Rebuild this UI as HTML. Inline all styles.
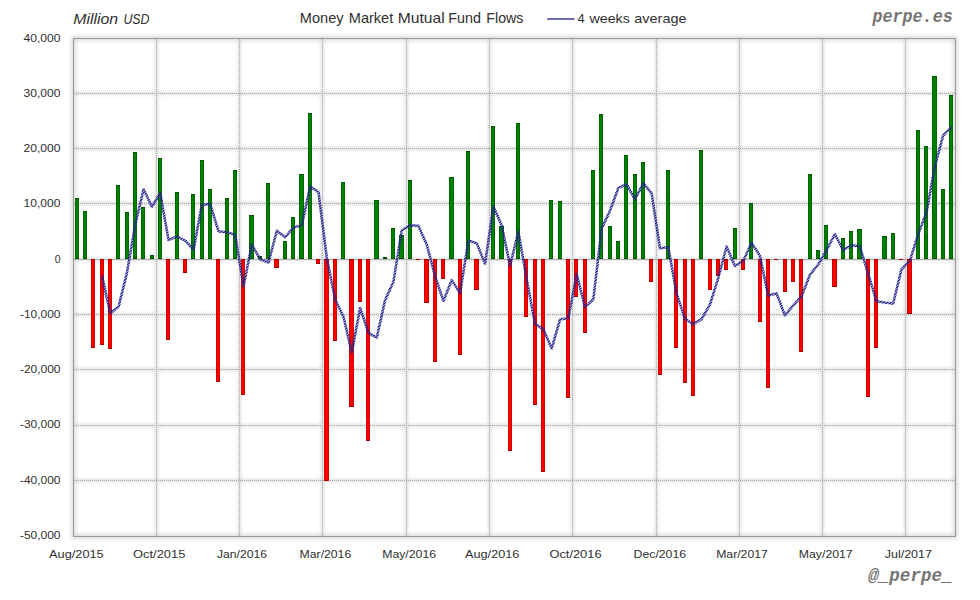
<!DOCTYPE html>
<html><head><meta charset="utf-8"><title>Money Market Mutual Fund Flows</title>
<style>html,body{margin:0;padding:0;background:#fff;}body{width:980px;height:600px;overflow:hidden;font-family:"Liberation Sans",sans-serif;}svg{display:block;}text{font-family:"Liberation Sans",sans-serif;}</style>
</head><body>
<svg width="980" height="600" viewBox="0 0 980 600">
<defs>
<filter id="glow" x="-5%" y="-5%" width="110%" height="110%"><feGaussianBlur stdDeviation="2.2"/></filter>
<filter id="glow2" x="-5%" y="-5%" width="110%" height="110%"><feGaussianBlur stdDeviation="1.6"/></filter>
<pattern id="hatch" width="2.2" height="8" patternUnits="userSpaceOnUse" patternTransform="rotate(54)"><rect x="0" y="0" width="1.2" height="8" fill="#18187c"/></pattern>
</defs>
<rect x="0" y="0" width="980" height="600" fill="#ffffff"/>
<rect x="73.5" y="38.5" width="882" height="498" fill="none" stroke="#9a9a9a" stroke-width="3" opacity="0.55" filter="url(#glow)"/>
<g stroke="#b0b0b0" stroke-width="3" opacity="0.42" filter="url(#glow2)">
<line x1="74" y1="93.5" x2="955" y2="93.5"/>
<line x1="74" y1="148.5" x2="955" y2="148.5"/>
<line x1="74" y1="203.5" x2="955" y2="203.5"/>
<line x1="74" y1="259.5" x2="955" y2="259.5"/>
<line x1="74" y1="314.5" x2="955" y2="314.5"/>
<line x1="74" y1="369.5" x2="955" y2="369.5"/>
<line x1="74" y1="425.5" x2="955" y2="425.5"/>
<line x1="74" y1="480.5" x2="955" y2="480.5"/>
<line x1="156.5" y1="39" x2="156.5" y2="536"/>
<line x1="239.5" y1="39" x2="239.5" y2="536"/>
<line x1="322.5" y1="39" x2="322.5" y2="536"/>
<line x1="406.5" y1="39" x2="406.5" y2="536"/>
<line x1="489.5" y1="39" x2="489.5" y2="536"/>
<line x1="572.5" y1="39" x2="572.5" y2="536"/>
<line x1="656.5" y1="39" x2="656.5" y2="536"/>
<line x1="739.5" y1="39" x2="739.5" y2="536"/>
<line x1="822.5" y1="39" x2="822.5" y2="536"/>
<line x1="905.5" y1="39" x2="905.5" y2="536"/>
</g>
<g stroke="#a8a8a8" stroke-width="1" stroke-dasharray="1 1" shape-rendering="crispEdges">
<line x1="74" y1="93.5" x2="955" y2="93.5"/>
<line x1="74" y1="148.5" x2="955" y2="148.5"/>
<line x1="74" y1="203.5" x2="955" y2="203.5"/>
<line x1="74" y1="314.5" x2="955" y2="314.5"/>
<line x1="74" y1="369.5" x2="955" y2="369.5"/>
<line x1="74" y1="425.5" x2="955" y2="425.5"/>
<line x1="74" y1="480.5" x2="955" y2="480.5"/>
<line x1="156.5" y1="39" x2="156.5" y2="536"/>
<line x1="239.5" y1="39" x2="239.5" y2="536"/>
<line x1="322.5" y1="39" x2="322.5" y2="536"/>
<line x1="406.5" y1="39" x2="406.5" y2="536"/>
<line x1="489.5" y1="39" x2="489.5" y2="536"/>
<line x1="572.5" y1="39" x2="572.5" y2="536"/>
<line x1="656.5" y1="39" x2="656.5" y2="536"/>
<line x1="739.5" y1="39" x2="739.5" y2="536"/>
<line x1="822.5" y1="39" x2="822.5" y2="536"/>
<line x1="905.5" y1="39" x2="905.5" y2="536"/>
</g>
<line x1="74" y1="259.5" x2="955" y2="259.5" stroke="#adadad" stroke-width="1" shape-rendering="crispEdges"/>
<g shape-rendering="crispEdges">
<rect x="75" y="198" width="4" height="61" fill="#006a00"/>
<rect x="76" y="199" width="2" height="59" fill="#008000"/>
<rect x="75" y="198" width="4" height="1" fill="#005400"/>
<rect x="75" y="258" width="4" height="1" fill="#005400"/>
<rect x="83" y="211" width="4" height="48" fill="#006a00"/>
<rect x="84" y="212" width="2" height="46" fill="#008000"/>
<rect x="83" y="211" width="4" height="1" fill="#005400"/>
<rect x="83" y="258" width="4" height="1" fill="#005400"/>
<rect x="91" y="259" width="4" height="89" fill="#d40000"/>
<rect x="92" y="260" width="2" height="87" fill="#ff0000"/>
<rect x="91" y="259" width="4" height="1" fill="#a80000"/>
<rect x="91" y="347" width="4" height="1" fill="#a80000"/>
<rect x="100" y="259" width="4" height="86" fill="#d40000"/>
<rect x="101" y="260" width="2" height="84" fill="#ff0000"/>
<rect x="100" y="259" width="4" height="1" fill="#a80000"/>
<rect x="100" y="344" width="4" height="1" fill="#a80000"/>
<rect x="108" y="259" width="4" height="90" fill="#d40000"/>
<rect x="109" y="260" width="2" height="88" fill="#ff0000"/>
<rect x="108" y="259" width="4" height="1" fill="#a80000"/>
<rect x="108" y="348" width="4" height="1" fill="#a80000"/>
<rect x="116" y="185" width="4" height="74" fill="#006a00"/>
<rect x="117" y="186" width="2" height="72" fill="#008000"/>
<rect x="116" y="185" width="4" height="1" fill="#005400"/>
<rect x="116" y="258" width="4" height="1" fill="#005400"/>
<rect x="125" y="212" width="4" height="47" fill="#006a00"/>
<rect x="126" y="213" width="2" height="45" fill="#008000"/>
<rect x="125" y="212" width="4" height="1" fill="#005400"/>
<rect x="125" y="258" width="4" height="1" fill="#005400"/>
<rect x="133" y="152" width="4" height="107" fill="#006a00"/>
<rect x="134" y="153" width="2" height="105" fill="#008000"/>
<rect x="133" y="152" width="4" height="1" fill="#005400"/>
<rect x="133" y="258" width="4" height="1" fill="#005400"/>
<rect x="141" y="207" width="4" height="52" fill="#006a00"/>
<rect x="142" y="208" width="2" height="50" fill="#008000"/>
<rect x="141" y="207" width="4" height="1" fill="#005400"/>
<rect x="141" y="258" width="4" height="1" fill="#005400"/>
<rect x="150" y="255" width="4" height="4" fill="#006a00"/>
<rect x="151" y="256" width="2" height="2" fill="#008000"/>
<rect x="150" y="255" width="4" height="1" fill="#005400"/>
<rect x="150" y="258" width="4" height="1" fill="#005400"/>
<rect x="158" y="158" width="4" height="101" fill="#006a00"/>
<rect x="159" y="159" width="2" height="99" fill="#008000"/>
<rect x="158" y="158" width="4" height="1" fill="#005400"/>
<rect x="158" y="258" width="4" height="1" fill="#005400"/>
<rect x="166" y="259" width="4" height="81" fill="#d40000"/>
<rect x="167" y="260" width="2" height="79" fill="#ff0000"/>
<rect x="166" y="259" width="4" height="1" fill="#a80000"/>
<rect x="166" y="339" width="4" height="1" fill="#a80000"/>
<rect x="175" y="192" width="4" height="67" fill="#006a00"/>
<rect x="176" y="193" width="2" height="65" fill="#008000"/>
<rect x="175" y="192" width="4" height="1" fill="#005400"/>
<rect x="175" y="258" width="4" height="1" fill="#005400"/>
<rect x="183" y="259" width="4" height="14" fill="#d40000"/>
<rect x="184" y="260" width="2" height="12" fill="#ff0000"/>
<rect x="183" y="259" width="4" height="1" fill="#a80000"/>
<rect x="183" y="272" width="4" height="1" fill="#a80000"/>
<rect x="191" y="194" width="4" height="65" fill="#006a00"/>
<rect x="192" y="195" width="2" height="63" fill="#008000"/>
<rect x="191" y="194" width="4" height="1" fill="#005400"/>
<rect x="191" y="258" width="4" height="1" fill="#005400"/>
<rect x="200" y="160" width="4" height="99" fill="#006a00"/>
<rect x="201" y="161" width="2" height="97" fill="#008000"/>
<rect x="200" y="160" width="4" height="1" fill="#005400"/>
<rect x="200" y="258" width="4" height="1" fill="#005400"/>
<rect x="208" y="189" width="4" height="70" fill="#006a00"/>
<rect x="209" y="190" width="2" height="68" fill="#008000"/>
<rect x="208" y="189" width="4" height="1" fill="#005400"/>
<rect x="208" y="258" width="4" height="1" fill="#005400"/>
<rect x="216" y="259" width="4" height="123" fill="#d40000"/>
<rect x="217" y="260" width="2" height="121" fill="#ff0000"/>
<rect x="216" y="259" width="4" height="1" fill="#a80000"/>
<rect x="216" y="381" width="4" height="1" fill="#a80000"/>
<rect x="225" y="198" width="4" height="61" fill="#006a00"/>
<rect x="226" y="199" width="2" height="59" fill="#008000"/>
<rect x="225" y="198" width="4" height="1" fill="#005400"/>
<rect x="225" y="258" width="4" height="1" fill="#005400"/>
<rect x="233" y="170" width="4" height="89" fill="#006a00"/>
<rect x="234" y="171" width="2" height="87" fill="#008000"/>
<rect x="233" y="170" width="4" height="1" fill="#005400"/>
<rect x="233" y="258" width="4" height="1" fill="#005400"/>
<rect x="241" y="259" width="4" height="136" fill="#d40000"/>
<rect x="242" y="260" width="2" height="134" fill="#ff0000"/>
<rect x="241" y="259" width="4" height="1" fill="#a80000"/>
<rect x="241" y="394" width="4" height="1" fill="#a80000"/>
<rect x="249" y="215" width="5" height="44" fill="#006a00"/>
<rect x="250" y="216" width="3" height="42" fill="#008000"/>
<rect x="249" y="215" width="5" height="1" fill="#005400"/>
<rect x="249" y="258" width="5" height="1" fill="#005400"/>
<rect x="258" y="256" width="4" height="3" fill="#006a00"/>
<rect x="259" y="257" width="2" height="1" fill="#008000"/>
<rect x="258" y="256" width="4" height="1" fill="#005400"/>
<rect x="258" y="258" width="4" height="1" fill="#005400"/>
<rect x="266" y="183" width="4" height="76" fill="#006a00"/>
<rect x="267" y="184" width="2" height="74" fill="#008000"/>
<rect x="266" y="183" width="4" height="1" fill="#005400"/>
<rect x="266" y="258" width="4" height="1" fill="#005400"/>
<rect x="274" y="259" width="5" height="9" fill="#d40000"/>
<rect x="275" y="260" width="3" height="7" fill="#ff0000"/>
<rect x="274" y="259" width="5" height="1" fill="#a80000"/>
<rect x="274" y="267" width="5" height="1" fill="#a80000"/>
<rect x="283" y="241" width="4" height="18" fill="#006a00"/>
<rect x="284" y="242" width="2" height="16" fill="#008000"/>
<rect x="283" y="241" width="4" height="1" fill="#005400"/>
<rect x="283" y="258" width="4" height="1" fill="#005400"/>
<rect x="291" y="217" width="4" height="42" fill="#006a00"/>
<rect x="292" y="218" width="2" height="40" fill="#008000"/>
<rect x="291" y="217" width="4" height="1" fill="#005400"/>
<rect x="291" y="258" width="4" height="1" fill="#005400"/>
<rect x="299" y="174" width="5" height="85" fill="#006a00"/>
<rect x="300" y="175" width="3" height="83" fill="#008000"/>
<rect x="299" y="174" width="5" height="1" fill="#005400"/>
<rect x="299" y="258" width="5" height="1" fill="#005400"/>
<rect x="308" y="113" width="4" height="146" fill="#006a00"/>
<rect x="309" y="114" width="2" height="144" fill="#008000"/>
<rect x="308" y="113" width="4" height="1" fill="#005400"/>
<rect x="308" y="258" width="4" height="1" fill="#005400"/>
<rect x="316" y="259" width="4" height="5" fill="#d40000"/>
<rect x="317" y="260" width="2" height="3" fill="#ff0000"/>
<rect x="316" y="259" width="4" height="1" fill="#a80000"/>
<rect x="316" y="263" width="4" height="1" fill="#a80000"/>
<rect x="324" y="259" width="5" height="222" fill="#d40000"/>
<rect x="325" y="260" width="3" height="220" fill="#ff0000"/>
<rect x="324" y="259" width="5" height="1" fill="#a80000"/>
<rect x="324" y="480" width="5" height="1" fill="#a80000"/>
<rect x="333" y="259" width="4" height="82" fill="#d40000"/>
<rect x="334" y="260" width="2" height="80" fill="#ff0000"/>
<rect x="333" y="259" width="4" height="1" fill="#a80000"/>
<rect x="333" y="340" width="4" height="1" fill="#a80000"/>
<rect x="341" y="182" width="4" height="77" fill="#006a00"/>
<rect x="342" y="183" width="2" height="75" fill="#008000"/>
<rect x="341" y="182" width="4" height="1" fill="#005400"/>
<rect x="341" y="258" width="4" height="1" fill="#005400"/>
<rect x="349" y="259" width="5" height="148" fill="#d40000"/>
<rect x="350" y="260" width="3" height="146" fill="#ff0000"/>
<rect x="349" y="259" width="5" height="1" fill="#a80000"/>
<rect x="349" y="406" width="5" height="1" fill="#a80000"/>
<rect x="358" y="259" width="4" height="43" fill="#d40000"/>
<rect x="359" y="260" width="2" height="41" fill="#ff0000"/>
<rect x="358" y="259" width="4" height="1" fill="#a80000"/>
<rect x="358" y="301" width="4" height="1" fill="#a80000"/>
<rect x="366" y="259" width="4" height="182" fill="#d40000"/>
<rect x="367" y="260" width="2" height="180" fill="#ff0000"/>
<rect x="366" y="259" width="4" height="1" fill="#a80000"/>
<rect x="366" y="440" width="4" height="1" fill="#a80000"/>
<rect x="374" y="200" width="5" height="59" fill="#006a00"/>
<rect x="375" y="201" width="3" height="57" fill="#008000"/>
<rect x="374" y="200" width="5" height="1" fill="#005400"/>
<rect x="374" y="258" width="5" height="1" fill="#005400"/>
<rect x="383" y="257" width="4" height="2" fill="#005400"/>
<rect x="391" y="228" width="4" height="31" fill="#006a00"/>
<rect x="392" y="229" width="2" height="29" fill="#008000"/>
<rect x="391" y="228" width="4" height="1" fill="#005400"/>
<rect x="391" y="258" width="4" height="1" fill="#005400"/>
<rect x="399" y="235" width="5" height="24" fill="#006a00"/>
<rect x="400" y="236" width="3" height="22" fill="#008000"/>
<rect x="399" y="235" width="5" height="1" fill="#005400"/>
<rect x="399" y="258" width="5" height="1" fill="#005400"/>
<rect x="408" y="180" width="4" height="79" fill="#006a00"/>
<rect x="409" y="181" width="2" height="77" fill="#008000"/>
<rect x="408" y="180" width="4" height="1" fill="#005400"/>
<rect x="408" y="258" width="4" height="1" fill="#005400"/>
<rect x="416" y="259" width="4" height="1" fill="#a80000"/>
<rect x="424" y="259" width="5" height="44" fill="#d40000"/>
<rect x="425" y="260" width="3" height="42" fill="#ff0000"/>
<rect x="424" y="259" width="5" height="1" fill="#a80000"/>
<rect x="424" y="302" width="5" height="1" fill="#a80000"/>
<rect x="433" y="259" width="4" height="103" fill="#d40000"/>
<rect x="434" y="260" width="2" height="101" fill="#ff0000"/>
<rect x="433" y="259" width="4" height="1" fill="#a80000"/>
<rect x="433" y="361" width="4" height="1" fill="#a80000"/>
<rect x="441" y="259" width="4" height="20" fill="#d40000"/>
<rect x="442" y="260" width="2" height="18" fill="#ff0000"/>
<rect x="441" y="259" width="4" height="1" fill="#a80000"/>
<rect x="441" y="278" width="4" height="1" fill="#a80000"/>
<rect x="449" y="177" width="5" height="82" fill="#006a00"/>
<rect x="450" y="178" width="3" height="80" fill="#008000"/>
<rect x="449" y="177" width="5" height="1" fill="#005400"/>
<rect x="449" y="258" width="5" height="1" fill="#005400"/>
<rect x="458" y="259" width="4" height="96" fill="#d40000"/>
<rect x="459" y="260" width="2" height="94" fill="#ff0000"/>
<rect x="458" y="259" width="4" height="1" fill="#a80000"/>
<rect x="458" y="354" width="4" height="1" fill="#a80000"/>
<rect x="466" y="151" width="4" height="108" fill="#006a00"/>
<rect x="467" y="152" width="2" height="106" fill="#008000"/>
<rect x="466" y="151" width="4" height="1" fill="#005400"/>
<rect x="466" y="258" width="4" height="1" fill="#005400"/>
<rect x="474" y="259" width="5" height="31" fill="#d40000"/>
<rect x="475" y="260" width="3" height="29" fill="#ff0000"/>
<rect x="474" y="259" width="5" height="1" fill="#a80000"/>
<rect x="474" y="289" width="5" height="1" fill="#a80000"/>
<rect x="491" y="126" width="4" height="133" fill="#006a00"/>
<rect x="492" y="127" width="2" height="131" fill="#008000"/>
<rect x="491" y="126" width="4" height="1" fill="#005400"/>
<rect x="491" y="258" width="4" height="1" fill="#005400"/>
<rect x="499" y="226" width="5" height="33" fill="#006a00"/>
<rect x="500" y="227" width="3" height="31" fill="#008000"/>
<rect x="499" y="226" width="5" height="1" fill="#005400"/>
<rect x="499" y="258" width="5" height="1" fill="#005400"/>
<rect x="508" y="259" width="4" height="192" fill="#d40000"/>
<rect x="509" y="260" width="2" height="190" fill="#ff0000"/>
<rect x="508" y="259" width="4" height="1" fill="#a80000"/>
<rect x="508" y="450" width="4" height="1" fill="#a80000"/>
<rect x="516" y="123" width="4" height="136" fill="#006a00"/>
<rect x="517" y="124" width="2" height="134" fill="#008000"/>
<rect x="516" y="123" width="4" height="1" fill="#005400"/>
<rect x="516" y="258" width="4" height="1" fill="#005400"/>
<rect x="524" y="259" width="4" height="58" fill="#d40000"/>
<rect x="525" y="260" width="2" height="56" fill="#ff0000"/>
<rect x="524" y="259" width="4" height="1" fill="#a80000"/>
<rect x="524" y="316" width="4" height="1" fill="#a80000"/>
<rect x="533" y="259" width="4" height="146" fill="#d40000"/>
<rect x="534" y="260" width="2" height="144" fill="#ff0000"/>
<rect x="533" y="259" width="4" height="1" fill="#a80000"/>
<rect x="533" y="404" width="4" height="1" fill="#a80000"/>
<rect x="541" y="259" width="4" height="213" fill="#d40000"/>
<rect x="542" y="260" width="2" height="211" fill="#ff0000"/>
<rect x="541" y="259" width="4" height="1" fill="#a80000"/>
<rect x="541" y="471" width="4" height="1" fill="#a80000"/>
<rect x="549" y="200" width="4" height="59" fill="#006a00"/>
<rect x="550" y="201" width="2" height="57" fill="#008000"/>
<rect x="549" y="200" width="4" height="1" fill="#005400"/>
<rect x="549" y="258" width="4" height="1" fill="#005400"/>
<rect x="558" y="201" width="4" height="58" fill="#006a00"/>
<rect x="559" y="202" width="2" height="56" fill="#008000"/>
<rect x="558" y="201" width="4" height="1" fill="#005400"/>
<rect x="558" y="258" width="4" height="1" fill="#005400"/>
<rect x="566" y="259" width="4" height="139" fill="#d40000"/>
<rect x="567" y="260" width="2" height="137" fill="#ff0000"/>
<rect x="566" y="259" width="4" height="1" fill="#a80000"/>
<rect x="566" y="397" width="4" height="1" fill="#a80000"/>
<rect x="574" y="259" width="4" height="38" fill="#d40000"/>
<rect x="575" y="260" width="2" height="36" fill="#ff0000"/>
<rect x="574" y="259" width="4" height="1" fill="#a80000"/>
<rect x="574" y="296" width="4" height="1" fill="#a80000"/>
<rect x="583" y="259" width="4" height="74" fill="#d40000"/>
<rect x="584" y="260" width="2" height="72" fill="#ff0000"/>
<rect x="583" y="259" width="4" height="1" fill="#a80000"/>
<rect x="583" y="332" width="4" height="1" fill="#a80000"/>
<rect x="591" y="170" width="4" height="89" fill="#006a00"/>
<rect x="592" y="171" width="2" height="87" fill="#008000"/>
<rect x="591" y="170" width="4" height="1" fill="#005400"/>
<rect x="591" y="258" width="4" height="1" fill="#005400"/>
<rect x="599" y="114" width="4" height="145" fill="#006a00"/>
<rect x="600" y="115" width="2" height="143" fill="#008000"/>
<rect x="599" y="114" width="4" height="1" fill="#005400"/>
<rect x="599" y="258" width="4" height="1" fill="#005400"/>
<rect x="608" y="226" width="4" height="33" fill="#006a00"/>
<rect x="609" y="227" width="2" height="31" fill="#008000"/>
<rect x="608" y="226" width="4" height="1" fill="#005400"/>
<rect x="608" y="258" width="4" height="1" fill="#005400"/>
<rect x="616" y="241" width="4" height="18" fill="#006a00"/>
<rect x="617" y="242" width="2" height="16" fill="#008000"/>
<rect x="616" y="241" width="4" height="1" fill="#005400"/>
<rect x="616" y="258" width="4" height="1" fill="#005400"/>
<rect x="624" y="155" width="4" height="104" fill="#006a00"/>
<rect x="625" y="156" width="2" height="102" fill="#008000"/>
<rect x="624" y="155" width="4" height="1" fill="#005400"/>
<rect x="624" y="258" width="4" height="1" fill="#005400"/>
<rect x="633" y="174" width="4" height="85" fill="#006a00"/>
<rect x="634" y="175" width="2" height="83" fill="#008000"/>
<rect x="633" y="174" width="4" height="1" fill="#005400"/>
<rect x="633" y="258" width="4" height="1" fill="#005400"/>
<rect x="641" y="162" width="4" height="97" fill="#006a00"/>
<rect x="642" y="163" width="2" height="95" fill="#008000"/>
<rect x="641" y="162" width="4" height="1" fill="#005400"/>
<rect x="641" y="258" width="4" height="1" fill="#005400"/>
<rect x="649" y="259" width="4" height="23" fill="#d40000"/>
<rect x="650" y="260" width="2" height="21" fill="#ff0000"/>
<rect x="649" y="259" width="4" height="1" fill="#a80000"/>
<rect x="649" y="281" width="4" height="1" fill="#a80000"/>
<rect x="658" y="259" width="4" height="116" fill="#d40000"/>
<rect x="659" y="260" width="2" height="114" fill="#ff0000"/>
<rect x="658" y="259" width="4" height="1" fill="#a80000"/>
<rect x="658" y="374" width="4" height="1" fill="#a80000"/>
<rect x="666" y="170" width="4" height="89" fill="#006a00"/>
<rect x="667" y="171" width="2" height="87" fill="#008000"/>
<rect x="666" y="170" width="4" height="1" fill="#005400"/>
<rect x="666" y="258" width="4" height="1" fill="#005400"/>
<rect x="674" y="259" width="4" height="89" fill="#d40000"/>
<rect x="675" y="260" width="2" height="87" fill="#ff0000"/>
<rect x="674" y="259" width="4" height="1" fill="#a80000"/>
<rect x="674" y="347" width="4" height="1" fill="#a80000"/>
<rect x="683" y="259" width="4" height="124" fill="#d40000"/>
<rect x="684" y="260" width="2" height="122" fill="#ff0000"/>
<rect x="683" y="259" width="4" height="1" fill="#a80000"/>
<rect x="683" y="382" width="4" height="1" fill="#a80000"/>
<rect x="691" y="259" width="4" height="137" fill="#d40000"/>
<rect x="692" y="260" width="2" height="135" fill="#ff0000"/>
<rect x="691" y="259" width="4" height="1" fill="#a80000"/>
<rect x="691" y="395" width="4" height="1" fill="#a80000"/>
<rect x="699" y="150" width="4" height="109" fill="#006a00"/>
<rect x="700" y="151" width="2" height="107" fill="#008000"/>
<rect x="699" y="150" width="4" height="1" fill="#005400"/>
<rect x="699" y="258" width="4" height="1" fill="#005400"/>
<rect x="708" y="259" width="4" height="31" fill="#d40000"/>
<rect x="709" y="260" width="2" height="29" fill="#ff0000"/>
<rect x="708" y="259" width="4" height="1" fill="#a80000"/>
<rect x="708" y="289" width="4" height="1" fill="#a80000"/>
<rect x="716" y="259" width="4" height="17" fill="#d40000"/>
<rect x="717" y="260" width="2" height="15" fill="#ff0000"/>
<rect x="716" y="259" width="4" height="1" fill="#a80000"/>
<rect x="716" y="275" width="4" height="1" fill="#a80000"/>
<rect x="724" y="259" width="4" height="11" fill="#d40000"/>
<rect x="725" y="260" width="2" height="9" fill="#ff0000"/>
<rect x="724" y="259" width="4" height="1" fill="#a80000"/>
<rect x="724" y="269" width="4" height="1" fill="#a80000"/>
<rect x="733" y="228" width="4" height="31" fill="#006a00"/>
<rect x="734" y="229" width="2" height="29" fill="#008000"/>
<rect x="733" y="228" width="4" height="1" fill="#005400"/>
<rect x="733" y="258" width="4" height="1" fill="#005400"/>
<rect x="741" y="259" width="4" height="11" fill="#d40000"/>
<rect x="742" y="260" width="2" height="9" fill="#ff0000"/>
<rect x="741" y="259" width="4" height="1" fill="#a80000"/>
<rect x="741" y="269" width="4" height="1" fill="#a80000"/>
<rect x="749" y="203" width="4" height="56" fill="#006a00"/>
<rect x="750" y="204" width="2" height="54" fill="#008000"/>
<rect x="749" y="203" width="4" height="1" fill="#005400"/>
<rect x="749" y="258" width="4" height="1" fill="#005400"/>
<rect x="758" y="259" width="4" height="63" fill="#d40000"/>
<rect x="759" y="260" width="2" height="61" fill="#ff0000"/>
<rect x="758" y="259" width="4" height="1" fill="#a80000"/>
<rect x="758" y="321" width="4" height="1" fill="#a80000"/>
<rect x="766" y="259" width="4" height="129" fill="#d40000"/>
<rect x="767" y="260" width="2" height="127" fill="#ff0000"/>
<rect x="766" y="259" width="4" height="1" fill="#a80000"/>
<rect x="766" y="387" width="4" height="1" fill="#a80000"/>
<rect x="774" y="259" width="4" height="1" fill="#a80000"/>
<rect x="783" y="259" width="4" height="33" fill="#d40000"/>
<rect x="784" y="260" width="2" height="31" fill="#ff0000"/>
<rect x="783" y="259" width="4" height="1" fill="#a80000"/>
<rect x="783" y="291" width="4" height="1" fill="#a80000"/>
<rect x="791" y="259" width="4" height="23" fill="#d40000"/>
<rect x="792" y="260" width="2" height="21" fill="#ff0000"/>
<rect x="791" y="259" width="4" height="1" fill="#a80000"/>
<rect x="791" y="281" width="4" height="1" fill="#a80000"/>
<rect x="799" y="259" width="4" height="93" fill="#d40000"/>
<rect x="800" y="260" width="2" height="91" fill="#ff0000"/>
<rect x="799" y="259" width="4" height="1" fill="#a80000"/>
<rect x="799" y="351" width="4" height="1" fill="#a80000"/>
<rect x="808" y="174" width="4" height="85" fill="#006a00"/>
<rect x="809" y="175" width="2" height="83" fill="#008000"/>
<rect x="808" y="174" width="4" height="1" fill="#005400"/>
<rect x="808" y="258" width="4" height="1" fill="#005400"/>
<rect x="816" y="250" width="4" height="9" fill="#006a00"/>
<rect x="817" y="251" width="2" height="7" fill="#008000"/>
<rect x="816" y="250" width="4" height="1" fill="#005400"/>
<rect x="816" y="258" width="4" height="1" fill="#005400"/>
<rect x="824" y="225" width="4" height="34" fill="#006a00"/>
<rect x="825" y="226" width="2" height="32" fill="#008000"/>
<rect x="824" y="225" width="4" height="1" fill="#005400"/>
<rect x="824" y="258" width="4" height="1" fill="#005400"/>
<rect x="832" y="259" width="5" height="28" fill="#d40000"/>
<rect x="833" y="260" width="3" height="26" fill="#ff0000"/>
<rect x="832" y="259" width="5" height="1" fill="#a80000"/>
<rect x="832" y="286" width="5" height="1" fill="#a80000"/>
<rect x="841" y="238" width="4" height="21" fill="#006a00"/>
<rect x="842" y="239" width="2" height="19" fill="#008000"/>
<rect x="841" y="238" width="4" height="1" fill="#005400"/>
<rect x="841" y="258" width="4" height="1" fill="#005400"/>
<rect x="849" y="231" width="4" height="28" fill="#006a00"/>
<rect x="850" y="232" width="2" height="26" fill="#008000"/>
<rect x="849" y="231" width="4" height="1" fill="#005400"/>
<rect x="849" y="258" width="4" height="1" fill="#005400"/>
<rect x="857" y="229" width="5" height="30" fill="#006a00"/>
<rect x="858" y="230" width="3" height="28" fill="#008000"/>
<rect x="857" y="229" width="5" height="1" fill="#005400"/>
<rect x="857" y="258" width="5" height="1" fill="#005400"/>
<rect x="866" y="259" width="4" height="138" fill="#d40000"/>
<rect x="867" y="260" width="2" height="136" fill="#ff0000"/>
<rect x="866" y="259" width="4" height="1" fill="#a80000"/>
<rect x="866" y="396" width="4" height="1" fill="#a80000"/>
<rect x="874" y="259" width="4" height="89" fill="#d40000"/>
<rect x="875" y="260" width="2" height="87" fill="#ff0000"/>
<rect x="874" y="259" width="4" height="1" fill="#a80000"/>
<rect x="874" y="347" width="4" height="1" fill="#a80000"/>
<rect x="882" y="236" width="5" height="23" fill="#006a00"/>
<rect x="883" y="237" width="3" height="21" fill="#008000"/>
<rect x="882" y="236" width="5" height="1" fill="#005400"/>
<rect x="882" y="258" width="5" height="1" fill="#005400"/>
<rect x="891" y="233" width="4" height="26" fill="#006a00"/>
<rect x="892" y="234" width="2" height="24" fill="#008000"/>
<rect x="891" y="233" width="4" height="1" fill="#005400"/>
<rect x="891" y="258" width="4" height="1" fill="#005400"/>
<rect x="899" y="259" width="4" height="1" fill="#a80000"/>
<rect x="907" y="259" width="5" height="55" fill="#d40000"/>
<rect x="908" y="260" width="3" height="53" fill="#ff0000"/>
<rect x="907" y="259" width="5" height="1" fill="#a80000"/>
<rect x="907" y="313" width="5" height="1" fill="#a80000"/>
<rect x="916" y="130" width="4" height="129" fill="#006a00"/>
<rect x="917" y="131" width="2" height="127" fill="#008000"/>
<rect x="916" y="130" width="4" height="1" fill="#005400"/>
<rect x="916" y="258" width="4" height="1" fill="#005400"/>
<rect x="924" y="146" width="4" height="113" fill="#006a00"/>
<rect x="925" y="147" width="2" height="111" fill="#008000"/>
<rect x="924" y="146" width="4" height="1" fill="#005400"/>
<rect x="924" y="258" width="4" height="1" fill="#005400"/>
<rect x="932" y="76" width="5" height="183" fill="#006a00"/>
<rect x="933" y="77" width="3" height="181" fill="#008000"/>
<rect x="932" y="76" width="5" height="1" fill="#005400"/>
<rect x="932" y="258" width="5" height="1" fill="#005400"/>
<rect x="941" y="189" width="4" height="70" fill="#006a00"/>
<rect x="942" y="190" width="2" height="68" fill="#008000"/>
<rect x="941" y="189" width="4" height="1" fill="#005400"/>
<rect x="941" y="258" width="4" height="1" fill="#005400"/>
<rect x="949" y="95" width="4" height="164" fill="#006a00"/>
<rect x="950" y="96" width="2" height="162" fill="#008000"/>
<rect x="949" y="95" width="4" height="1" fill="#005400"/>
<rect x="949" y="258" width="4" height="1" fill="#005400"/>
</g>
<polyline points="101.94,275.53 110.26,313.23 118.59,306.78 126.92,272.88 135.25,224.72 143.58,189.27 151.91,206.77 160.24,193.22 168.56,240.10 176.89,236.32 185.22,240.70 193.55,249.70 201.88,204.80 210.21,204.07 218.54,231.32 226.86,232.35 235.19,234.85 243.52,286.28 251.85,244.67 260.18,259.25 268.51,262.50 276.84,230.77 285.16,237.27 293.49,227.50 301.82,225.25 310.15,186.53 318.48,192.12 326.81,257.95 335.14,299.55 343.46,316.83 351.79,352.62 360.12,307.95 368.45,332.95 376.78,337.50 385.11,300.10 393.44,281.73 401.76,230.30 410.09,225.25 418.42,225.92 426.75,244.53 435.08,276.28 443.41,300.90 451.74,280.15 460.06,293.15 468.39,240.50 476.72,243.28 485.05,263.78 493.38,206.62 501.71,225.40 510.04,265.60 518.36,231.65 526.69,279.28 535.02,323.85 543.35,329.18 551.68,348.45 560.01,319.60 568.34,317.90 576.66,274.08 584.99,307.12 593.32,299.30 601.65,228.38 609.98,210.82 618.31,188.03 626.64,184.30 634.96,199.30 643.29,183.28 651.62,193.32 659.95,248.27 668.28,247.25 676.61,293.65 684.94,318.90 693.26,324.12 701.59,319.12 709.92,304.55 718.25,278.03 726.58,246.47 734.91,265.98 743.24,261.00 751.56,242.75 759.89,255.72 768.22,295.63 776.55,293.23 784.88,315.30 793.21,305.40 801.54,296.40 809.86,274.93 818.19,264.53 826.52,250.32 834.85,234.07 843.18,250.10 851.51,245.35 859.84,246.38 868.16,273.88 876.49,301.28 884.82,302.55 893.15,303.53 901.48,269.38 909.81,260.88 918.14,234.35 926.46,212.62 934.79,166.67 943.12,135.54 951.45,126.81" fill="none" stroke="#5050c0" stroke-opacity="0.38" stroke-width="2.3" stroke-linejoin="round"/>
<polyline points="101.94,275.53 110.26,313.23 118.59,306.78 126.92,272.88 135.25,224.72 143.58,189.27 151.91,206.77 160.24,193.22 168.56,240.10 176.89,236.32 185.22,240.70 193.55,249.70 201.88,204.80 210.21,204.07 218.54,231.32 226.86,232.35 235.19,234.85 243.52,286.28 251.85,244.67 260.18,259.25 268.51,262.50 276.84,230.77 285.16,237.27 293.49,227.50 301.82,225.25 310.15,186.53 318.48,192.12 326.81,257.95 335.14,299.55 343.46,316.83 351.79,352.62 360.12,307.95 368.45,332.95 376.78,337.50 385.11,300.10 393.44,281.73 401.76,230.30 410.09,225.25 418.42,225.92 426.75,244.53 435.08,276.28 443.41,300.90 451.74,280.15 460.06,293.15 468.39,240.50 476.72,243.28 485.05,263.78 493.38,206.62 501.71,225.40 510.04,265.60 518.36,231.65 526.69,279.28 535.02,323.85 543.35,329.18 551.68,348.45 560.01,319.60 568.34,317.90 576.66,274.08 584.99,307.12 593.32,299.30 601.65,228.38 609.98,210.82 618.31,188.03 626.64,184.30 634.96,199.30 643.29,183.28 651.62,193.32 659.95,248.27 668.28,247.25 676.61,293.65 684.94,318.90 693.26,324.12 701.59,319.12 709.92,304.55 718.25,278.03 726.58,246.47 734.91,265.98 743.24,261.00 751.56,242.75 759.89,255.72 768.22,295.63 776.55,293.23 784.88,315.30 793.21,305.40 801.54,296.40 809.86,274.93 818.19,264.53 826.52,250.32 834.85,234.07 843.18,250.10 851.51,245.35 859.84,246.38 868.16,273.88 876.49,301.28 884.82,302.55 893.15,303.53 901.48,269.38 909.81,260.88 918.14,234.35 926.46,212.62 934.79,166.67 943.12,135.54 951.45,126.81" fill="none" stroke="url(#hatch)" stroke-width="2.6" stroke-linejoin="round"/>
<rect x="73.5" y="38.5" width="882" height="498" fill="none" stroke="#9a9a9a" stroke-width="1" shape-rendering="crispEdges"/>
<text x="23.55" y="41.6" font-size="11.6" fill="#303030" textLength="37.00" lengthAdjust="spacingAndGlyphs">40,000</text>
<text x="23.55" y="96.84" font-size="11.6" fill="#303030" textLength="37.00" lengthAdjust="spacingAndGlyphs">30,000</text>
<text x="23.55" y="152.08" font-size="11.6" fill="#303030" textLength="37.00" lengthAdjust="spacingAndGlyphs">20,000</text>
<text x="23.55" y="207.32" font-size="11.6" fill="#303030" textLength="37.00" lengthAdjust="spacingAndGlyphs">10,000</text>
<text x="54.65" y="262.56" font-size="11.6" fill="#303030" textLength="5.90" lengthAdjust="spacingAndGlyphs">0</text>
<text x="19.95" y="317.8" font-size="11.6" fill="#303030" textLength="40.60" lengthAdjust="spacingAndGlyphs">-10,000</text>
<text x="19.95" y="373.04" font-size="11.6" fill="#303030" textLength="40.60" lengthAdjust="spacingAndGlyphs">-20,000</text>
<text x="19.95" y="428.28" font-size="11.6" fill="#303030" textLength="40.60" lengthAdjust="spacingAndGlyphs">-30,000</text>
<text x="19.95" y="483.52" font-size="11.6" fill="#303030" textLength="40.60" lengthAdjust="spacingAndGlyphs">-40,000</text>
<text x="19.95" y="538.76" font-size="11.6" fill="#303030" textLength="40.60" lengthAdjust="spacingAndGlyphs">-50,000</text>
<text x="49.10" y="558.1" font-size="11.6" fill="#303030" textLength="54.60" lengthAdjust="spacingAndGlyphs">Aug/2015</text>
<text x="133.10" y="558.1" font-size="11.6" fill="#303030" textLength="52.20" lengthAdjust="spacingAndGlyphs">Oct/2015</text>
<text x="217.00" y="558.1" font-size="11.6" fill="#303030" textLength="50.00" lengthAdjust="spacingAndGlyphs">Jan/2016</text>
<text x="299.60" y="558.1" font-size="11.6" fill="#303030" textLength="51.60" lengthAdjust="spacingAndGlyphs">Mar/2016</text>
<text x="382.20" y="558.1" font-size="11.6" fill="#303030" textLength="53.90" lengthAdjust="spacingAndGlyphs">May/2016</text>
<text x="465.10" y="558.1" font-size="11.6" fill="#303030" textLength="54.20" lengthAdjust="spacingAndGlyphs">Aug/2016</text>
<text x="549.40" y="558.1" font-size="11.6" fill="#303030" textLength="52.20" lengthAdjust="spacingAndGlyphs">Oct/2016</text>
<text x="633.60" y="558.1" font-size="11.6" fill="#303030" textLength="52.50" lengthAdjust="spacingAndGlyphs">Dec/2016</text>
<text x="716.20" y="558.1" font-size="11.6" fill="#303030" textLength="51.60" lengthAdjust="spacingAndGlyphs">Mar/2017</text>
<text x="798.80" y="558.1" font-size="11.6" fill="#303030" textLength="53.90" lengthAdjust="spacingAndGlyphs">May/2017</text>
<text x="884.70" y="558.1" font-size="11.6" fill="#303030" textLength="47.30" lengthAdjust="spacingAndGlyphs">Jul/2017</text>
<text x="73.20" y="23.9" font-size="13.8" fill="#303030" textLength="45.00" lengthAdjust="spacingAndGlyphs" font-style="italic">Million</text>
<text x="123.40" y="23.9" font-size="13.8" fill="#303030" textLength="26.10" lengthAdjust="spacingAndGlyphs" font-style="italic">USD</text>
<text x="299.80" y="22.7" font-size="14.2" fill="#303030" textLength="43.81" lengthAdjust="spacingAndGlyphs">Money</text>
<text x="348.80" y="22.7" font-size="14.2" fill="#303030" textLength="44.40" lengthAdjust="spacingAndGlyphs">Market</text>
<text x="397.80" y="22.7" font-size="14.2" fill="#303030" textLength="46.91" lengthAdjust="spacingAndGlyphs">Mutual</text>
<text x="448.30" y="22.7" font-size="14.2" fill="#303030" textLength="32.60" lengthAdjust="spacingAndGlyphs">Fund</text>
<text x="486.30" y="22.7" font-size="14.2" fill="#303030" textLength="37.10" lengthAdjust="spacingAndGlyphs">Flows</text>
<line x1="547.2" y1="19" x2="574.5" y2="19" stroke="#3c3c9c" stroke-width="1.5"/>
<text x="577.60" y="22.7" font-size="13.3" fill="#303030" textLength="7.20" lengthAdjust="spacingAndGlyphs">4</text>
<text x="589.43" y="22.7" font-size="13.3" fill="#303030" textLength="40.48" lengthAdjust="spacingAndGlyphs">weeks</text>
<text x="634.30" y="22.7" font-size="13.3" fill="#303030" textLength="52.20" lengthAdjust="spacingAndGlyphs">average</text>
<text x="872.53" y="21.9" font-size="17.6" fill="#757575" textLength="80.16" lengthAdjust="spacingAndGlyphs" style="font-family:'Liberation Mono',monospace;font-style:italic;font-weight:bold">perpe.es</text>
<text x="868.30" y="580.7" font-size="17.6" fill="#757575" textLength="84.20" lengthAdjust="spacingAndGlyphs" style="font-family:'Liberation Mono',monospace;font-style:italic;font-weight:bold">@_perpe_</text>
</svg>
</body></html>
